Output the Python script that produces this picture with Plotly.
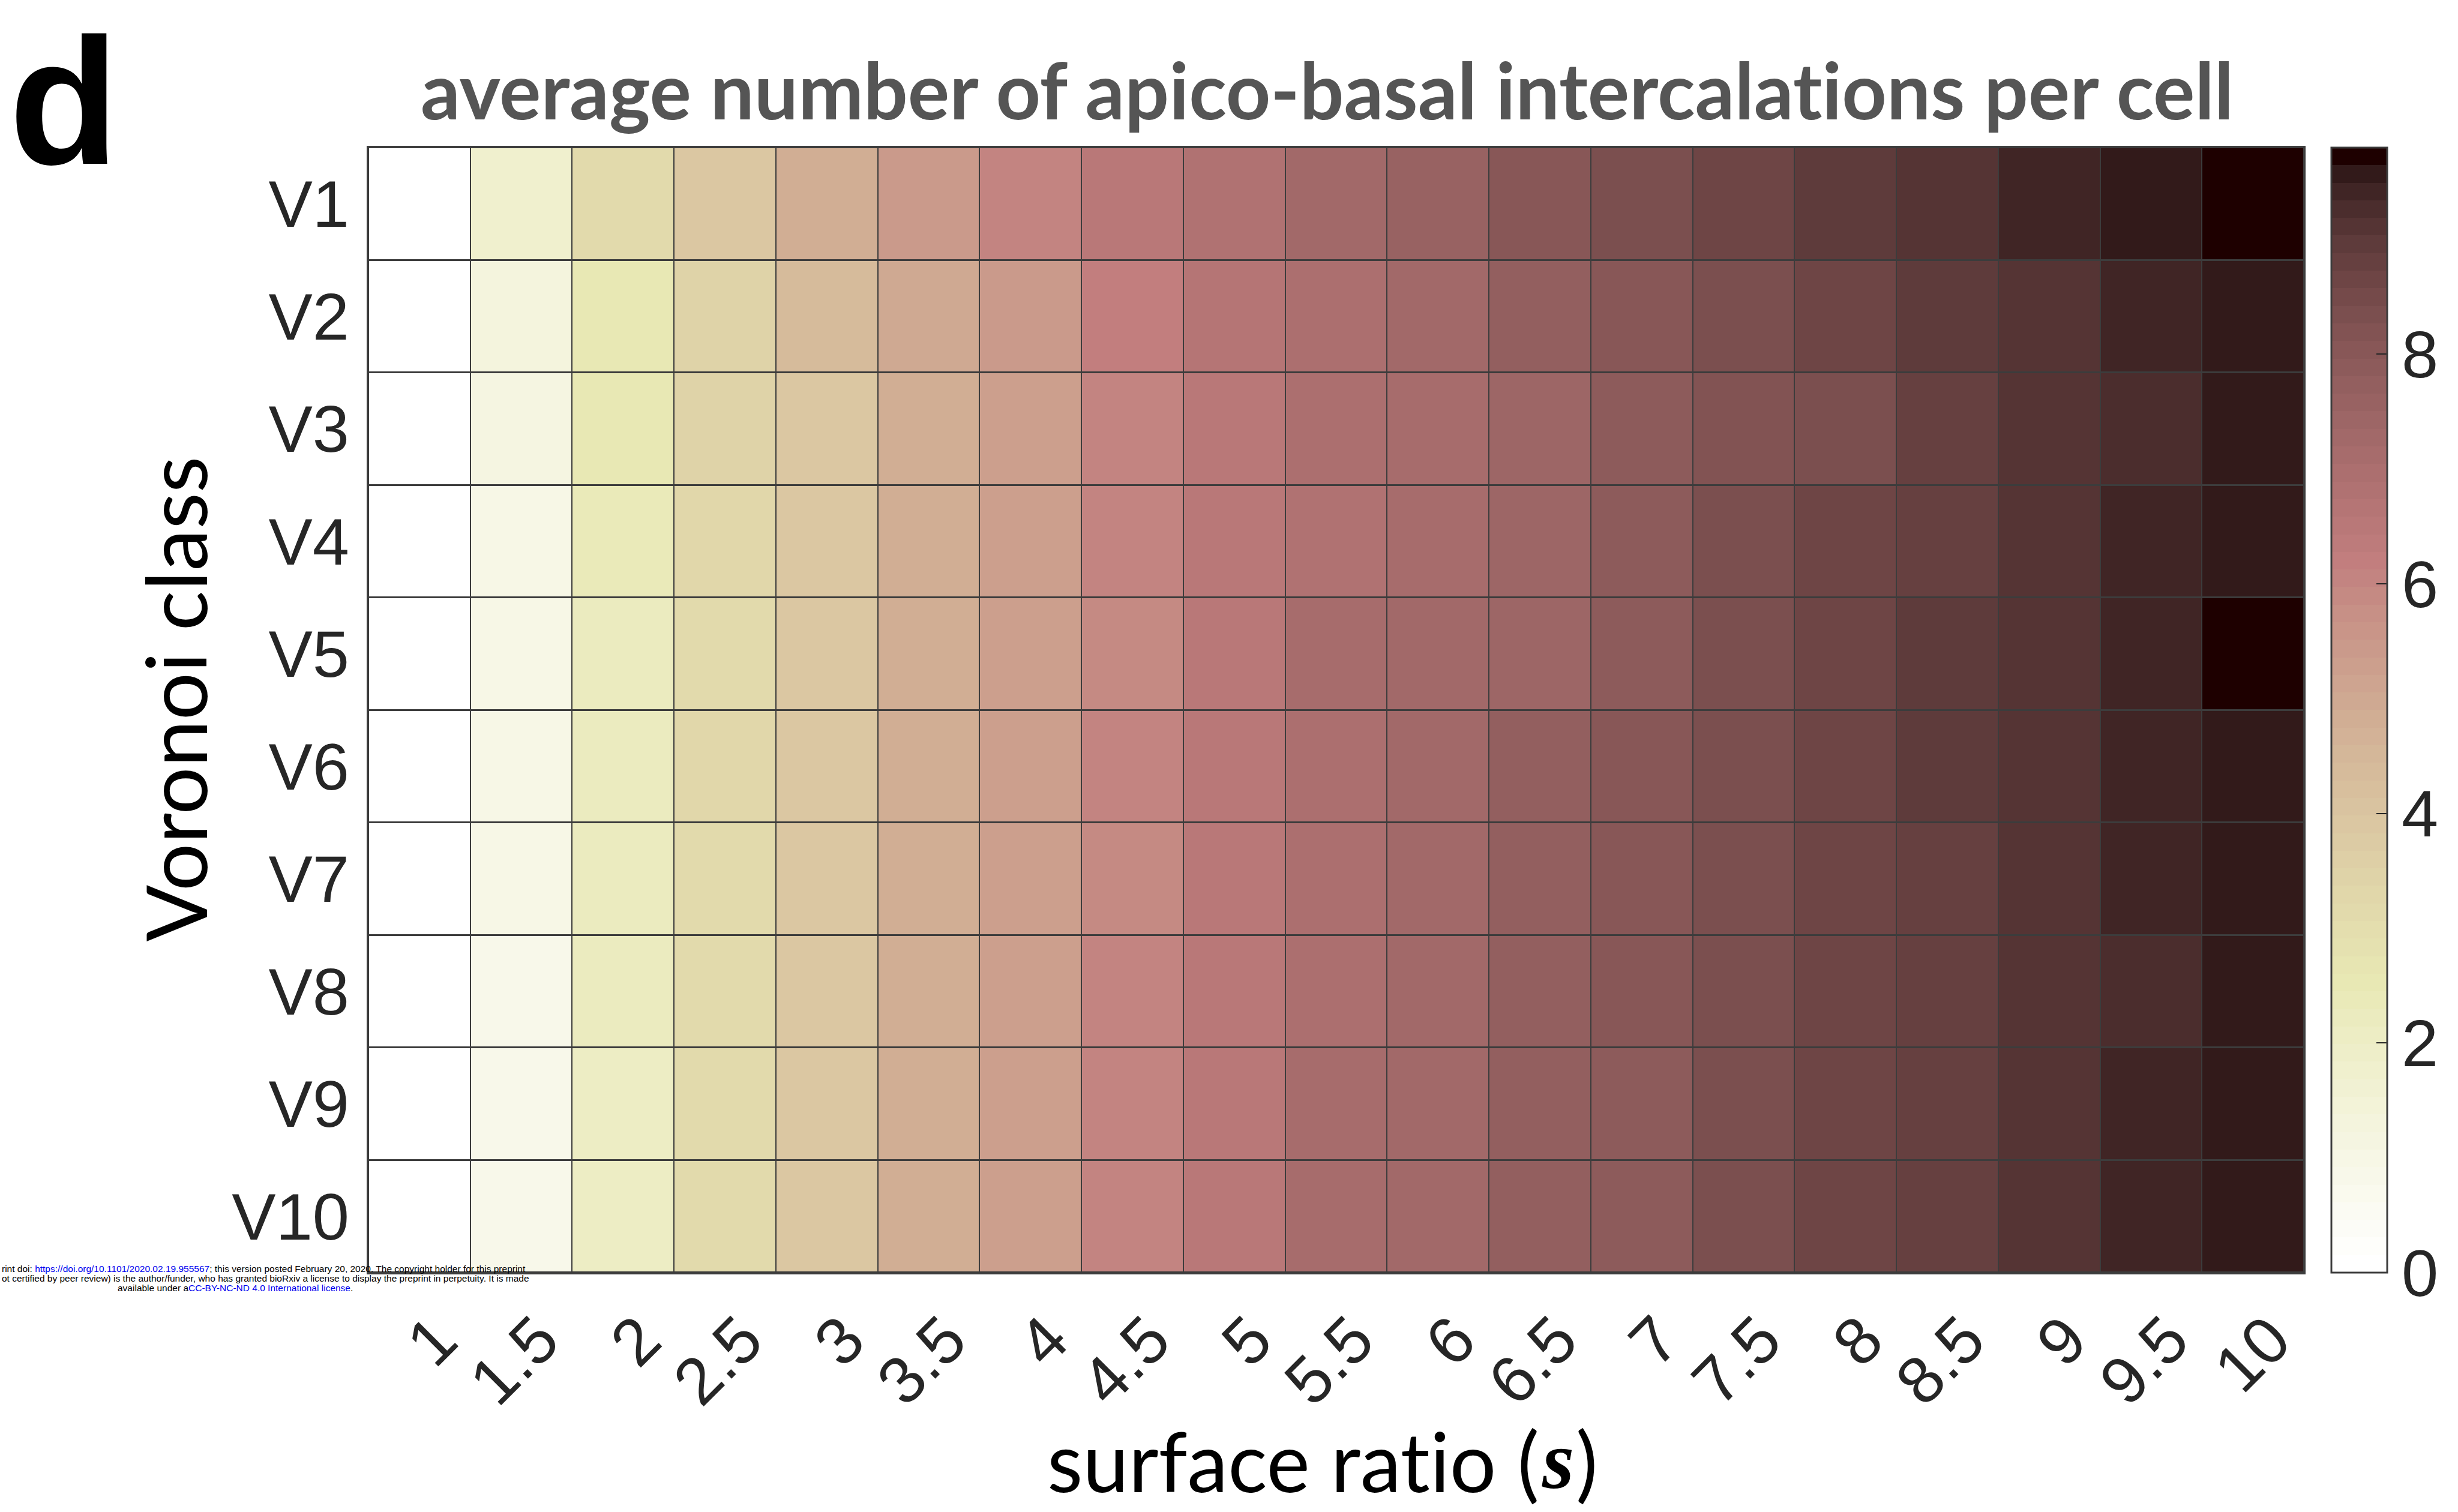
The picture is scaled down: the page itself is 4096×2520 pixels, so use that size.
import plotly.graph_objects as go

# ---------------- data ----------------
surface_ratio = ["1", "1.5", "2", "2.5", "3", "3.5", "4", "4.5", "5", "5.5",
                 "6", "6.5", "7", "7.5", "8", "8.5", "9", "9.5", "10"]
voronoi_class = ["V1", "V2", "V3", "V4", "V5", "V6", "V7", "V8", "V9", "V10"]

V1 = [0, 1.80, 3.10, 3.95, 4.80, 5.45, 6.00, 6.55, 6.85, 7.25, 7.55, 8.10, 8.30, 8.65, 8.96, 9.10, 9.42, 9.57, 9.80]
V2 = [0, 1.35, 2.55, 3.40, 4.35, 5.00, 5.45, 6.15, 6.60, 7.00, 7.30, 7.80, 8.00, 8.30, 8.65, 8.96, 9.10, 9.42, 9.57]
V3 = [0, 1.20, 2.50, 3.40, 3.95, 4.80, 5.35, 6.00, 6.50, 6.90, 7.15, 7.45, 7.95, 8.25, 8.40, 8.85, 9.10, 9.30, 9.57]
V4 = [0, 1.00, 2.30, 3.30, 3.95, 4.80, 5.35, 6.00, 6.50, 6.85, 7.15, 7.50, 7.95, 8.30, 8.65, 8.85, 9.10, 9.42, 9.57]
V5 = [0, 1.00, 2.25, 3.20, 3.90, 4.80, 5.35, 5.95, 6.50, 7.05, 7.20, 7.50, 7.95, 8.30, 8.65, 8.96, 9.10, 9.42, 9.80]
V6 = [0, 1.00, 2.20, 3.25, 3.90, 4.80, 5.35, 6.00, 6.50, 7.00, 7.20, 7.70, 8.00, 8.30, 8.65, 8.96, 9.10, 9.42, 9.57]
V7 = [0, 1.00, 2.15, 3.20, 3.90, 4.80, 5.35, 5.95, 6.50, 7.00, 7.20, 7.70, 8.00, 8.30, 8.65, 8.85, 9.10, 9.42, 9.57]
V8 = [0, 0.90, 2.15, 3.20, 3.90, 4.80, 5.35, 6.00, 6.50, 7.00, 7.20, 7.70, 8.00, 8.30, 8.65, 8.85, 9.10, 9.26, 9.57]
V9 = [0, 0.85, 2.05, 3.15, 3.85, 4.80, 5.30, 6.00, 6.50, 7.05, 7.20, 7.70, 7.95, 8.30, 8.65, 8.85, 9.10, 9.42, 9.57]
V10 = [0, 0.85, 2.00, 3.15, 3.85, 4.80, 5.30, 6.00, 6.50, 7.05, 7.20, 7.70, 7.95, 8.30, 8.65, 8.85, 9.10, 9.42, 9.57]

colorbar_ticks = [0, 2, 4, 6, 8]
z_min, z_max = 0, 9.8

# ---------------- colormap: flipped MATLAB "pink" (64 levels) ----------------
def pink_flipped(m=64):
    n = int(3 / 8 * m)
    cols = []
    for i in range(m):
        j = i + 1
        gray = i / (m - 1)
        r = j / n if j <= n else 1.0
        g = 0.0 if j <= n else ((j - n) / n if j <= 2 * n else 1.0)
        b = 0.0 if j <= 2 * n else (j - 2 * n) / (m - 2 * n)
        rgb = [((2 * gray + h) / 3) ** 0.5 for h in (r, g, b)]
        cols.append("rgb(%d,%d,%d)" % tuple(round(255 * c) for c in rgb))
    return cols[::-1]

levels = pink_flipped(64)
cscale = []
for k, c in enumerate(levels):
    cscale.append([k / 64, c])
    cscale.append([(k + 1) / 64, c])

z = [V1, V2, V3, V4, V5, V6, V7, V8, V9, V10]

# ---------------- geometry (px) ----------------
W, H = 4096, 2520
L, R, T, B = 614, 3843, 246, 2121
pw, ph = R - L, B - T

def px(xp):
    return (xp - L) / pw

def py(yp):
    return (B - yp) / ph

tick_font = dict(family="Liberation Sans, Arial, sans-serif", size=110, color="#262626")
line_col = "#3c3c3c"
ZWNJ = "\u200c"   # prevents the Lato 'ti' ligature

fig = go.Figure(go.Heatmap(
    z=z, x=surface_ratio, y=voronoi_class,
    colorscale=cscale, zmin=z_min, zmax=z_max,
    xgap=2, ygap=3,
    colorbar=dict(
        thickness=93, thicknessmode="pixels",
        len=1, lenmode="fraction",
        x=px(3889), xanchor="left", y=0.5, yanchor="middle",
        xpad=0, ypad=0,
        outlinecolor=line_col, outlinewidth=3,
        tickvals=colorbar_ticks, ticks="inside", ticklen=19,
        tickcolor="#262626", tickwidth=2,
        tickfont=tick_font,
    ),
))

fig.update_layout(
    width=W, height=H, autosize=False,
    margin=dict(l=L, r=W - R, t=T, b=H - B, pad=0),
    paper_bgcolor="white", plot_bgcolor=line_col,
    xaxis=dict(type="category", tickangle=-45, tickfont=tick_font, ticks="",
               showline=True, mirror=True, linecolor=line_col, linewidth=3,
               showgrid=False, zeroline=False, ticklabelstandoff=0, ticklabelshift=30),
    yaxis=dict(type="category", autorange="reversed", tickfont=tick_font, ticks="",
               showline=True, mirror=True, linecolor=line_col, linewidth=3,
               showgrid=False, zeroline=False, ticklabelstandoff=7),
)

ann = []
# panel letter
ann.append(dict(text="<b>d</b>", x=px(13), y=py(0), xref="paper", yref="paper",
                xanchor="left", yanchor="top", showarrow=False, borderpad=0,
                font=dict(family="Liberation Sans, Arial, sans-serif", size=300, color="black")))
# title
title_txt = "average number of apico-basal intercalations per cell".replace("ti", "t" + ZWNJ + "i")
ann.append(dict(text="<b>" + title_txt + "</b>",
                x=px(2213), y=py(149), xref="paper", yref="paper",
                xanchor="center", yanchor="middle", showarrow=False,
                font=dict(family="Lato, sans-serif", size=130, color="#555555")))
# x title in three side-by-side pieces: "surface ratio (" + bold-italic serif "s" + ")"
xt_y = py(2434)
xt_font = dict(family="Lato, sans-serif", size=137, color="black")
ann.append(dict(text="surface rat" + ZWNJ + "io (", x=px(2568), y=xt_y, xref="paper", yref="paper",
                xanchor="right", yanchor="middle", showarrow=False, borderpad=0, font=xt_font))
ann.append(dict(text="<b><i>s</i></b>", x=px(2570), y=xt_y, xref="paper", yref="paper",
                xanchor="left", yanchor="middle", showarrow=False, borderpad=0,
                font=dict(family="Liberation Serif, Times New Roman, serif", size=137, color="black")))
ann.append(dict(text=")", x=px(2627), y=xt_y, xref="paper", yref="paper",
                xanchor="left", yanchor="middle", showarrow=False, borderpad=0, font=xt_font))
# y title
ann.append(dict(text="Voronoi class", textangle=-90,
                x=px(291), y=py(1165), xref="paper", yref="paper",
                xanchor="center", yanchor="middle", showarrow=False,
                font=dict(family="Lato, sans-serif", size=140, color="black")))
# bioRxiv watermark (only the part visible in the panel)
blue = "<span style='color:#0000ee'>%s</span>"
wm_font = dict(family="Liberation Sans, Arial, sans-serif", size=15.5, color="black")
wm1 = "rint doi: " + blue % "https://doi.org/10.1101/2020.02.19.955567" + \
      "; this version posted February 20, 2020. The copyright holder for this preprint"
wm2 = "ot certified by peer review) is the author/funder, who has granted bioRxiv a license to display the preprint in perpetuity. It is made"
wm3 = "available under a" + blue % "CC-BY-NC-ND 4.0 International license" + "."
for txt, yc, xa, xx in [(wm1, 2114, "left", 1), (wm2, 2130, "left", 1), (wm3, 2146, "center", 392)]:
    ann.append(dict(text=txt, x=px(xx), y=py(yc), xref="paper", yref="paper",
                    xanchor=xa, yanchor="middle", showarrow=False, borderpad=0,
                    font=wm_font))

fig.update_layout(annotations=ann)
fig.write_html("out.html")
